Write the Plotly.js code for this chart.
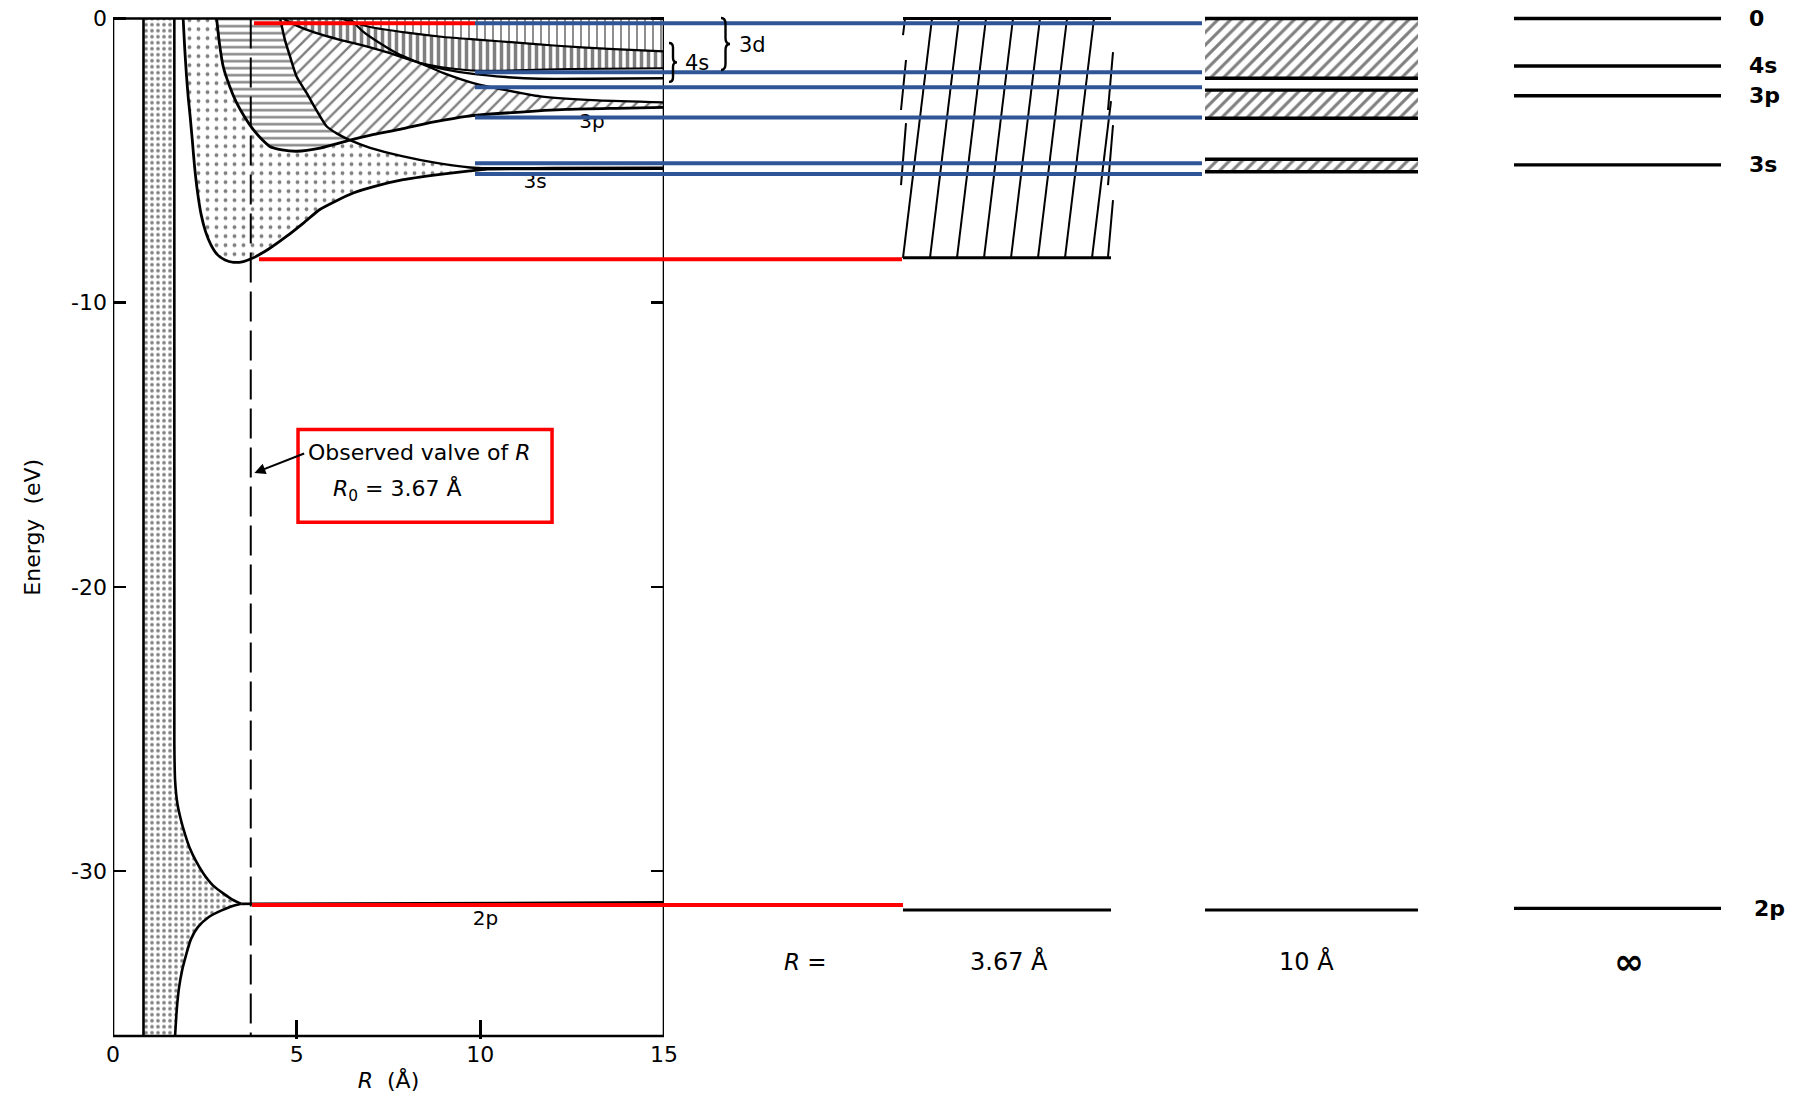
<!DOCTYPE html>
<html><head><meta charset="utf-8">
<script src="https://cdn.plot.ly/plotly-3.0.1.min.js"></script>
<style>html,body{margin:0;padding:0;background:#fff}#chart{width:1796px;height:1099px}</style>
</head><body><div id="chart"></div>
<script>
// ================= DATA =================
const xTickVals = [0, 5, 10, 15];
const xTickText = ['0', '5', '10', '15'];
const yTickVals = [0, -10, -20, -30];
const yTickText = ['0', '-10', '-20', '-30'];

// 2p core band (dense dots): left edge, upper flare to cusp, lower flare
const coreLeftR = 0.83;
const coreUpperR = [1.67, 1.67, 1.69, 1.75, 1.85, 1.96, 2.08, 2.26, 2.47, 2.72, 3.02, 3.25, 3.49];
const coreUpperE = [0, -25.5, -26.8, -27.6, -28.2, -28.7, -29.16, -29.65, -30.1, -30.5, -30.8, -31.0, -31.15];
const coreLowerR = [3.49, 3.2, 2.94, 2.6, 2.31, 2.12, 2.0, 1.88, 1.8, 1.74, 1.69];
const coreLowerE = [-31.15, -31.25, -31.39, -31.62, -31.97, -32.4, -32.9, -33.5, -34.08, -34.8, -35.8];
const level2pR = [3.49, 15];
const level2pE = [-31.15, -31.1];

// 3s band: lower edge (A) and upper edge (C)
const s3LowerR = [1.91, 1.95, 2.0, 2.05, 2.10, 2.16, 2.22, 2.30, 2.40, 2.52, 2.66, 2.82, 3.05, 3.28, 3.55, 3.82, 4.25, 4.73, 5.2, 5.63, 6.1, 6.54, 7.2, 7.9, 8.8, 9.72, 10.2, 12, 15];
const s3LowerE = [0, -1.0, -2.0, -2.8, -3.44, -4.3, -5.2, -6.1, -6.9, -7.5, -7.95, -8.28, -8.5, -8.58, -8.55, -8.42, -8.1, -7.66, -7.18, -6.72, -6.4, -6.14, -5.88, -5.67, -5.5, -5.36, -5.3, -5.29, -5.28];
const s3UpperR = [4.55, 4.68, 4.82, 5.0, 5.27, 5.55, 5.82, 6.1, 6.45, 7.0, 7.9, 8.8, 9.72, 10.2, 12, 15];
const s3UpperE = [0, -0.75, -1.34, -2.05, -2.62, -3.25, -3.8, -4.05, -4.28, -4.55, -4.85, -5.08, -5.24, -5.27, -5.26, -5.25];

// 3p band: lower edge (D) and upper edge (S)
const p3LowerR = [2.82, 2.9, 3.0, 3.18, 3.37, 3.6, 3.82, 4.05, 4.27, 4.6, 5.0, 5.64, 6.45, 7.1, 7.81, 8.7, 9.63, 11, 12.35, 13.7, 15];
const p3LowerE = [0, -0.9, -1.69, -2.4, -2.98, -3.5, -3.91, -4.25, -4.5, -4.62, -4.67, -4.56, -4.28, -4.08, -3.9, -3.65, -3.44, -3.3, -3.2, -3.16, -3.13];
const p3UpperR = [6.45, 6.8, 7.27, 7.81, 8.36, 9.0, 9.81, 10.7, 11.63, 13.2, 15];
const p3UpperE = [0, -0.45, -0.87, -1.28, -1.57, -1.92, -2.27, -2.52, -2.74, -2.88, -2.95];

// 4s band lower edge (Q), 3d lower edge, 4s/3d boundary (T)
const s4LowerR = [4.63, 5.0, 5.5, 6.18, 6.9, 7.54, 8.36, 9.0, 9.8, 10.7, 11.6, 13, 15];
const s4LowerE = [0, -0.25, -0.5, -0.75, -0.98, -1.22, -1.57, -1.78, -1.95, -2.06, -2.12, -2.12, -2.1];
const d3LowerR = [8.36, 9.0, 10.0, 11.0, 12.5, 15];
const d3LowerE = [-1.57, -1.72, -1.84, -1.82, -1.78, -1.75];
const s4UpperR = [6.2, 7.0, 8.0, 9.0, 10.0, 11.0, 12.0, 13.5, 15];
const s4UpperE = [0, -0.3, -0.5, -0.65, -0.75, -0.85, -0.95, -1.07, -1.16];

// observed R0 (dashed line as drawn)
const r0Drawn = 3.75;
const eBottom = -35.8;

// band labels in left panel
const bandLabelText = ['3s', '3p', '2p'];
const bandLabelR = [11.49, 13.04, 10.14];
const bandLabelE = [-5.79, -3.66, -31.72];

// right-hand schematic columns
const colNames = ['3.67 Å', '10 Å', '∞'];
const band367E = [0, -8.42];
const band10TopE = [0, -2.52, -4.95];
const band10BotE = [-2.10, -3.51, -5.39];
const infLevelNames = ['0', '4s', '3p', '3s', '2p'];
const infLevelE = [0, -1.67, -2.72, -5.15, -31.31];
const col2pE = [-31.37, -31.37];

// overlay guide lines
const blueE = [-0.17, -1.89, -2.42, -3.48, -5.09, -5.47];
const redE = [-0.17, -8.47, -31.19];

// ================= LAYOUT CONSTANTS (pixel positions) =================
const W = 1796, H = 1099;
const colLeft = [903, 1205, 1514], colRight = [1111, 1418, 1721];
const colLabelX = [1009, 1306, 1629];
const rowLabelE = -33.19;
const blueX = [475, 1202];
const redX0 = [254, 259, 252], redX1 = [475, 902, 903];
const font = 'DejaVu Sans, Liberation Sans, Arial, sans-serif';
const pxR = px => (px - 113) / 36.73;   // page pixel -> R on the left axis

// ================= TRACES =================
const traces = [];
function fillT(xs, ys, pat, xa) {
  traces.push({x: xs, y: ys, xaxis: xa || 'x', yaxis: 'y', type: 'scatter', mode: 'lines', fill: 'toself',
    line: {width: 0, color: 'rgba(0,0,0,0)'}, fillcolor: 'rgba(0,0,0,0)',
    fillpattern: Object.assign({fgcolor: '#000', bgcolor: 'rgba(0,0,0,0)', fillmode: 'overlay'}, pat),
    hoverinfo: 'skip', showlegend: false});
}
function lineT(xs, ys, w, opts) {
  opts = opts || {};
  const ln = {width: w, color: opts.color || '#000', dash: opts.dash || 'solid'};
  if (opts.smooth) { ln.shape = 'spline'; ln.smoothing = 0.6; }
  traces.push({x: xs, y: ys, xaxis: opts.xa || 'x', yaxis: 'y', type: 'scatter', mode: 'lines',
    line: ln, hoverinfo: 'skip', showlegend: false, connectgaps: false});
}
const rev = a => a.slice().reverse();

// --- fills, left panel ---
const iC = 8, iD = 12, iS = 4, iQ = 6;   // indices of crossing / junction points
// 2p core
fillT([coreLeftR, ...coreUpperR, ...coreLowerR.slice(1), coreLeftR],
      [0, ...coreUpperE, ...coreLowerE.slice(1), eBottom], {shape: '.', size: 6, solidity: 0.3});
// 3s only
fillT([...s3LowerR, ...rev(s3UpperR.slice(iC)), ...rev(p3LowerR.slice(0, iD + 1))],
      [...s3LowerE, ...rev(s3UpperE.slice(iC)), ...rev(p3LowerE.slice(0, iD + 1))], {shape: '.', size: 9, solidity: 0.14});
// 3s/3p overlap
fillT([...p3LowerR.slice(0, iD + 1), ...rev(s3UpperR.slice(0, iC + 1))],
      [...p3LowerE.slice(0, iD + 1), ...rev(s3UpperE.slice(0, iC + 1))], {shape: '-', size: 7, solidity: 0.33});
// 3p only
fillT([...s3UpperR.slice(0, iC + 1), ...p3LowerR.slice(iD + 1), ...rev(p3UpperR.slice(iS)), ...rev(s4LowerR.slice(0, iQ + 1))],
      [...s3UpperE.slice(0, iC + 1), ...p3LowerE.slice(iD + 1), ...rev(p3UpperE.slice(iS)), ...rev(s4LowerE.slice(0, iQ + 1))],
      {shape: '/', size: 9, solidity: 0.26});
// 4s (dense vertical)
fillT([...s4LowerR.slice(0, iQ + 1), ...d3LowerR.slice(1), ...rev(s4UpperR)],
      [...s4LowerE.slice(0, iQ + 1), ...d3LowerE.slice(1), ...rev(s4UpperE)], {shape: '|', size: 7, solidity: 0.5});
// 3d only (light vertical)
fillT([...s4UpperR, 15], [...s4UpperE, 0], {shape: '|', size: 8, solidity: 0.22});

// --- boundary lines, left panel ---
const sm = {smooth: true};
lineT([coreLeftR, coreLeftR], [0, eBottom], 2.6);
lineT(coreUpperR, coreUpperE, 2.6, sm);
lineT(coreLowerR, coreLowerE, 2.6, sm);
lineT(level2pR, level2pE, 2.6);
lineT(s3LowerR, s3LowerE, 2.8, sm);
lineT(s3UpperR, s3UpperE, 2.5, sm);
lineT(p3LowerR, p3LowerE, 2.8, sm);
lineT(p3UpperR, p3UpperE, 2.3, sm);
lineT(s4LowerR, s4LowerE, 2.4, sm);
lineT(d3LowerR, d3LowerE, 2.0, sm);
lineT(s4UpperR, s4UpperE, 2.2, sm);
lineT([r0Drawn, r0Drawn], [0, eBottom], 2, {dash: '30px,9px'});
// frame
lineT([0, 15, 15, 0, 0], [0, 0, eBottom, eBottom, 0], 2.6);

// band labels (drawn as text traces so overlay lines sit above them)
traces.push({x: bandLabelR, y: bandLabelE, xaxis: 'x', yaxis: 'y', type: 'scatter', mode: 'text',
  text: bandLabelText, textfont: {family: font, size: 20, color: '#000'}, textposition: 'middle center',
  hoverinfo: 'skip', showlegend: false, cliponaxis: false});

// --- right-hand columns (x2 = page pixels) ---
// 3.67 Å column: slanted hatch lines clipped to the column
(function () {
  const x0 = colLeft[0], x1 = colRight[0], top = band367E[0], bot = band367E[1];
  const shift = 29, step = 27;
  const hx = [], hy = [];
  for (let xb = x0 - step; xb <= x1; xb += step) {
    let t0 = 0, t1 = 1;
    if (xb < x0) t0 = (x0 - xb) / shift;
    if (xb + shift > x1) t1 = (x1 - xb) / shift;
    if (t0 < t1 && t0 <= 1) {
      hx.push(xb + shift * t0, xb + shift * t1, null);
      hy.push(bot + (top - bot) * t0, bot + (top - bot) * t1, null);
    }
  }
  lineT(hx, hy, 2, {xa: 'x2'});
  // broken side edges
  const leftSeg = [[-1.46, -3.22], [-3.68, -5.86]];
  const rightSeg = [[-1.18, -3.22], [-3.75, -5.86], [-6.39, -8.39]];
  const ex = [], ey = [];
  leftSeg.forEach(s => { ex.push(x0 + 3, x0 - 2, null); ey.push(s[0], s[1], null); });
  rightSeg.forEach(s => { ex.push(x1 + 2, x1 - 3, null); ey.push(s[0], s[1], null); });
  lineT(ex, ey, 2, {xa: 'x2'});
  lineT([x0, x1], [top, top], 3, {xa: 'x2'});
  lineT([x0, x1], [bot, bot], 3, {xa: 'x2'});
})();
// 10 Å column: three hatched bands
for (let i = 0; i < band10TopE.length; i++) {
  const x0 = colLeft[1], x1 = colRight[1];
  fillT([x0, x1, x1, x0], [band10TopE[i], band10TopE[i], band10BotE[i], band10BotE[i]],
        {shape: '/', size: 9, solidity: 0.34}, 'x2');
  lineT([x0, x1], [band10TopE[i], band10TopE[i]], 3.4, {xa: 'x2'});
  lineT([x0, x1], [band10BotE[i], band10BotE[i]], 3.4, {xa: 'x2'});
}
// 2p levels for 3.67 and 10 Å
for (let i = 0; i < 2; i++) lineT([colLeft[i], colRight[i]], [col2pE[i], col2pE[i]], 3, {xa: 'x2'});
// infinite separation: atomic levels
infLevelE.forEach(e => lineT([colLeft[2], colRight[2]], [e, e], 3.4, {xa: 'x2'}));

// --- overlay guide lines ---
blueE.forEach(e => lineT(blueX, [e, e], 4, {xa: 'x2', color: '#2F5597'}));
redE.forEach((e, i) => lineT([redX0[i], redX1[i]], [e, e], 4, {xa: 'x2', color: '#FF0000'}));

// ================= ANNOTATIONS & SHAPES =================
const ann = [];
infLevelNames.forEach((n, i) => ann.push({xref: 'x2', yref: 'y', x: n === '2p' ? 1752 : 1747, y: infLevelE[i],
  text: n, showarrow: false, xanchor: 'left', yanchor: 'middle', font: {family: font, size: 22, color: '#000', weight: 'bold'}}));
ann.push({xref: 'x2', yref: 'y', x: 805, y: rowLabelE, text: '<i>R</i> =', showarrow: false,
  font: {family: font, size: 23, color: '#000'}});
colNames.forEach((n, i) => ann.push({xref: 'x2', yref: 'y', x: colLabelX[i], y: rowLabelE, text: n, showarrow: false,
  font: {family: font, size: n === '∞' ? 36 : 24, color: '#000', weight: n === '∞' ? 'bold' : 'normal'}}));
ann.push({xref: 'x2', yref: 'y', x: 683, y: -1.57, text: '4s', showarrow: false, xanchor: 'left',
  font: {family: font, size: 21, color: '#000'}});
ann.push({xref: 'x2', yref: 'y', x: 737, y: -0.93, text: '3d', showarrow: false, xanchor: 'left',
  font: {family: font, size: 21, color: '#000'}});
// callout text, with its arrow pointing at the dashed R0 line
ann.push({xref: 'x', yref: 'y', x: r0Drawn + 0.1, y: -15.99, axref: 'x', ayref: 'y', ax: pxR(306), ay: -15.28,
  text: 'Observed valve of <i>R</i>', xanchor: 'left', yanchor: 'middle', showarrow: true,
  arrowhead: 2, arrowsize: 1.1, arrowwidth: 2, arrowcolor: '#000', standoff: 0, startstandoff: 2,
  font: {family: font, size: 22, color: '#000'}});
ann.push({xref: 'x', yref: 'y', x: pxR(331), y: -16.59, text: '<i>R</i><sub>0</sub> = 3.67 Å', showarrow: false,
  xanchor: 'left', yanchor: 'middle', font: {family: font, size: 22, color: '#000'}});

function bracePath(x, et, eb, w) {
  const mid = (et + eb) / 2, q = (et - eb) * 0.12, xm = x + w / 2;
  return `M ${x},${et} Q ${xm},${et} ${xm},${et - q} L ${xm},${mid + q} Q ${xm},${mid} ${x + w},${mid} ` +
         `Q ${xm},${mid} ${xm},${mid - q} L ${xm},${eb + q} Q ${xm},${eb} ${x},${eb}`;
}
const shapes = [
  {type: 'rect', xref: 'x', yref: 'y', x0: pxR(298), x1: pxR(552), y0: -14.46, y1: -17.72,
   line: {color: '#FF0000', width: 3.5}},
  {type: 'path', xref: 'x2', yref: 'y', path: bracePath(669, -0.86, -2.23, 8), line: {color: '#000', width: 2.4}},
  {type: 'path', xref: 'x2', yref: 'y', path: bracePath(721, 0.02, -1.81, 9), line: {color: '#000', width: 2.4}}
];

const layout = {
  width: W, height: H, margin: {l: 0, r: 0, t: 0, b: 0},
  paper_bgcolor: '#fff', plot_bgcolor: 'rgba(0,0,0,0)', hovermode: false, showlegend: false,
  font: {family: font, color: '#000'},
  xaxis: {domain: [113 / W, 664 / W], range: [0, 15], anchor: 'y', showgrid: false, zeroline: false, showline: false,
    tickmode: 'array', tickvals: xTickVals, ticktext: xTickText, ticks: 'inside', ticklen: 19, tickwidth: 2.5,
    tickcolor: '#000', tickfont: {family: font, size: 22, color: '#000'}, fixedrange: true, automargin: false,
    title: {text: '<i>R</i>  (Å)', standoff: 6, font: {family: font, size: 22, color: '#000'}}},
  yaxis: {domain: [0.05474, 0.98575], range: [-35.9, 0.1], anchor: 'x', showgrid: false, zeroline: false, showline: false,
    tickmode: 'array', tickvals: yTickVals, ticktext: yTickText, ticks: 'inside', ticklen: 13, tickwidth: 2.5,
    tickcolor: '#000', mirror: 'ticks', ticklabelstandoff: 5, tickfont: {family: font, size: 22, color: '#000'},
    fixedrange: true, automargin: false,
    title: {text: 'Energy  (eV)', standoff: 24, font: {family: font, size: 22, color: '#000'}}},
  xaxis2: {domain: [0, 1], range: [0, W], anchor: 'y', visible: false, showgrid: false, zeroline: false, fixedrange: true},
  annotations: ann, shapes: shapes
};
Plotly.newPlot('chart', traces, layout, {staticPlot: true, displayModeBar: false});
</script></body></html>
